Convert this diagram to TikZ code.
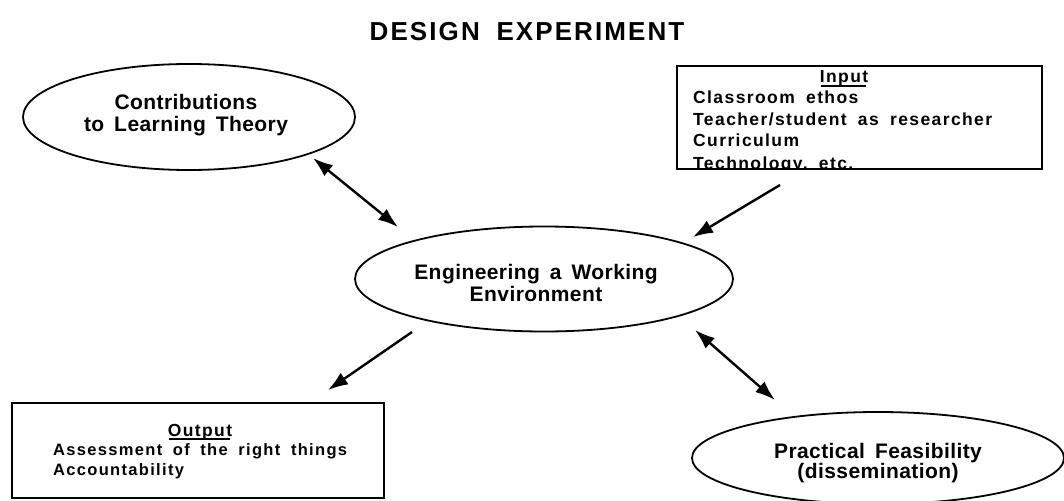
\documentclass[tikz,border=0pt]{standalone}
\usepackage{fontspec}
\setmainfont{Liberation Sans}
\newfontfamily\titlefam{Liberation Sans}[LetterSpace=8,WordSpace=1.8]
\newfontfamily\ovalfam{Liberation Sans}[LetterSpace=2,WordSpace=1.6]
\newfontfamily\boxfam{Liberation Sans}[LetterSpace=8,WordSpace=1.8]
\usetikzlibrary{arrows.meta,shapes.geometric}
\begin{document}
\begin{tikzpicture}[x=1pt,y=-1pt,
  oval/.style={draw,ellipse,line width=1.8pt,inner sep=0pt},
  ovaltext/.style={align=center,inner sep=0pt,font=\ovalfam\fontsize{21}{22}\selectfont\bfseries},
  intext/.style={anchor=base west,inner sep=0pt,font=\boxfam\fontsize{17.5}{20}\selectfont\bfseries},
  outtext/.style={anchor=base west,inner sep=0pt,font=\boxfam\fontsize{16.5}{20}\selectfont\bfseries},
  boxhead/.style={anchor=base,inner sep=0pt,font=\boxfam\fontsize{17.5}{20}\selectfont\bfseries},
  uline/.style={line width=1.6pt},
  frame/.style={draw,line width=1.8pt,anchor=north west,inner sep=0pt},
  link/.style={line width=2.4pt,-{Latex[length=20pt,width=14pt]}},
  link2/.style={line width=2.4pt,{Latex[length=20pt,width=14pt]}-{Latex[length=20pt,width=14pt]}}
]
\useasboundingbox (0,0) rectangle (1064,500);

% title
\node[anchor=base,inner sep=0pt,font=\titlefam\fontsize{26}{28}\selectfont\bfseries] (title) at (527,41) {DESIGN EXPERIMENT};

% ellipses
\node[oval,minimum width=332pt,minimum height=106pt] (learn) at (189,117) {};
\node[ovaltext] (learntxt) at (186,115) {Contributions\\to Learning Theory};

\node[oval,minimum width=378pt,minimum height=105pt] (eng) at (544,279) {};
\node[ovaltext] (engtxt) at (536,283) {Engineering a Working\\Environment};

\node[oval,minimum width=372pt,minimum height=92pt] (prac) at (878,458) {};
\node[ovaltext,font=\ovalfam\fontsize{21}{20.5}\selectfont\bfseries] (practxt) at (878,463) {Practical Feasibility\\(dissemination)};

% input box
\node[boxhead] (inhead) at (844,83) {Input};
\draw[uline] ([xshift=1pt,yshift=-3pt]inhead.base west) -- ([xshift=-2pt,yshift=-3pt]inhead.base east);
\node[intext] (in1) at (693,103) {Classroom ethos};
\node[intext] (in2) at (693,125) {Teacher/student as researcher};
\node[intext] (in3) at (693,146) {Curriculum};
\begin{scope}
\clip (676,65) rectangle (1041,168);
\node[intext] (in4) at (693,169) {Technology, etc.};
\end{scope}
\node[frame,minimum width=365pt,minimum height=103pt] (inbox) at (676,65) {};

% output box
\node[boxhead] (outhead) at (200,436) {Output};
\draw[uline] ([xshift=1pt,yshift=-3pt]outhead.base west) -- ([xshift=-2pt,yshift=-3pt]outhead.base east);
\node[outtext] (out1) at (53,455) {Assessment of the right things};
\node[outtext] (out2) at (53,475) {Accountability};
\node[frame,minimum width=372pt,minimum height=95pt] (outbox) at (11,402) {};

% connectors
\coordinate (a1s) at (313,158);
\coordinate (a1e) at (398,227);
\coordinate (a2s) at (780,185);
\coordinate (a2e) at (693,237);
\coordinate (a3s) at (412,332);
\coordinate (a3e) at (328,390);
\coordinate (a4s) at (695,330);
\coordinate (a4e) at (775,400);
\draw[link2] (a1s) -- (a1e);
\draw[link] (a2s) -- (a2e);
\draw[link] (a3s) -- (a3e);
\draw[link2] (a4s) -- (a4e);
\end{tikzpicture}
\end{document}
